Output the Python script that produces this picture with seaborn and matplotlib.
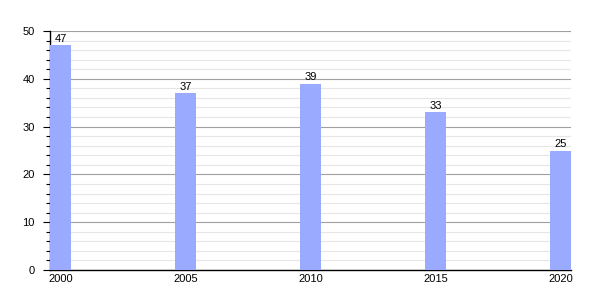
import matplotlib
matplotlib.use("Agg")
import matplotlib.pyplot as plt
import seaborn as sns
import pandas as pd
from matplotlib.ticker import MultipleLocator

years = [2000, 2005, 2010, 2015, 2020]
values = [47, 37, 39, 33, 25]

df = pd.DataFrame({"year": years, "value": values})

sns.set_style("white")
plt.rcParams["font.family"] = ["Liberation Sans", "DejaVu Sans"]
plt.rcParams["text.color"] = "black"
plt.rcParams["xtick.color"] = "black"
plt.rcParams["ytick.color"] = "black"

fig = plt.figure(figsize=(6, 3), dpi=100)
ax = fig.add_axes([50/600, 30/300, 521/600, 239/300])

sns.barplot(data=df, x="year", y="value", native_scale=True, width=0.168,
            color="#99aaff", saturation=1, ax=ax, zorder=3, edgecolor="none")

ax.set_xlim(years[0] - 0.42, years[-1] + 0.42)
ax.set_ylim(0, 50)
ax.set_xticks(years)
ax.set_xticklabels([str(y) for y in years])
ax.yaxis.set_major_locator(MultipleLocator(10))
ax.yaxis.set_minor_locator(MultipleLocator(2))
ax.grid(which="major", axis="y", color="#a0a0a0", linewidth=0.8, zorder=0)
ax.grid(which="minor", axis="y", color="#e6e6e6", linewidth=0.8, zorder=0)
ax.set_axisbelow(True)

for s in ["top", "right"]:
    ax.spines[s].set_visible(False)
ax.spines["left"].set_color("black")
ax.spines["bottom"].set_color("black")
ax.spines["left"].set_linewidth(1)
ax.spines["bottom"].set_linewidth(1)

ax.tick_params(axis="y", which="major", length=5, width=0.8, direction="out", left=True, labelsize=8, pad=6, colors="black")
ax.tick_params(axis="y", which="minor", length=3, width=0.8, direction="out", left=True, colors="black")
ax.tick_params(axis="x", length=0, labelsize=8, pad=3, colors="black")

for c in ax.containers:
    ax.bar_label(c, labels=[str(v) for v in values], fontsize=8, padding=1, color="black")

ax.set_xlabel("")
ax.set_ylabel("")

fig.savefig("out.png", dpi=100)
